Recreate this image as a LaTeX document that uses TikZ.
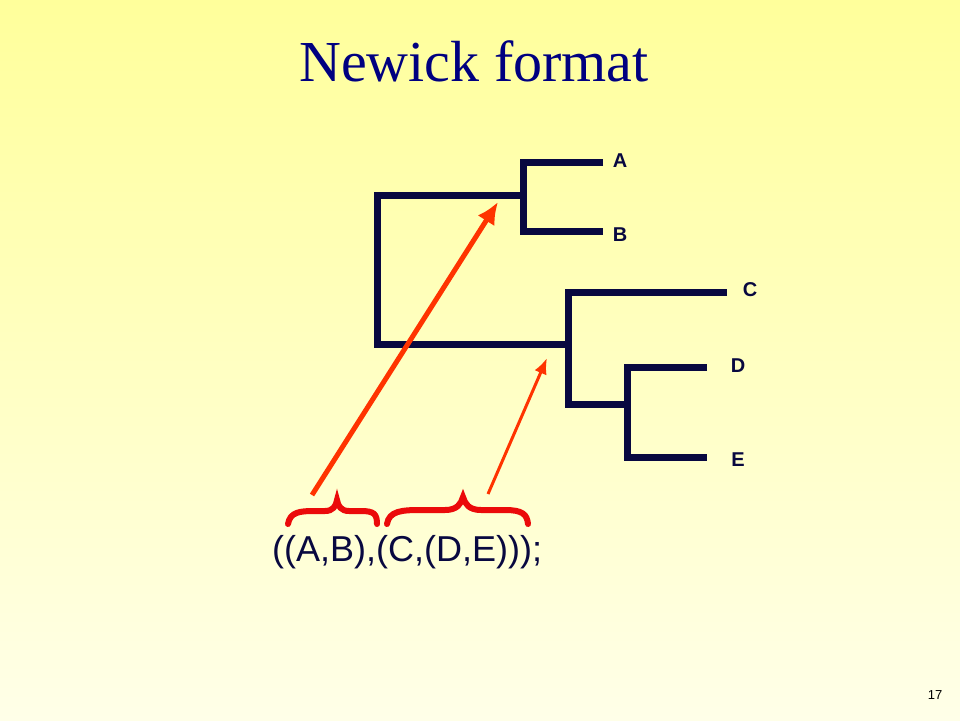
\documentclass[tikz,border=0pt]{standalone}
\usepackage{fontspec}
\setmainfont{Liberation Serif}
\setsansfont{Liberation Sans}
\usetikzlibrary{arrows.meta}
\definecolor{navy}{RGB}{0,0,128}
\definecolor{treeblue}{RGB}{8,8,64}
\definecolor{arrowred}{RGB}{255,51,0}
\definecolor{bracered}{RGB}{235,10,10}
\definecolor{slidetop}{RGB}{255,255,155}
\definecolor{slidebottom}{RGB}{255,255,232}
\tikzset{
  branch/.style={treeblue,line width=7pt,line join=miter},
  leaf/.style={font=\sffamily\bfseries\fontsize{20}{20}\selectfont,text=treeblue,inner sep=0pt},
  brace/.style={bracered,line width=6pt,line cap=round},
  bigarrow/.style={arrowred,line width=5pt,-{Latex[width=20pt,length=22pt]}},
  smallarrow/.style={arrowred,line width=3pt,-{Latex[width=13pt,length=16pt]}}
}

\begin{document}
\begin{tikzpicture}[x=1pt,y=-1pt]
		% border
		\shade[top color=slidetop,bottom color=slidebottom] (0,0) rectangle (960,720);
		\useasboundingbox (0,0) rectangle (960,720);
		% title
		\node[navy,font=\fontsize{58}{58}\selectfont,anchor=base] (title) at (474,81) {Newick format};
		% inner nodes of the tree
		\coordinate (root) at (377,268);
		\coordinate (ab)   at (523,195);
		\coordinate (cde)  at (568,344);
		\coordinate (de)   at (627,404);
		% leaf ends
		\coordinate (a) at (603,162);
		\coordinate (b) at (603,231);
		\coordinate (c) at (727,292);
		\coordinate (d) at (707,367);
		\coordinate (e) at (707,457);
		% branches
		\draw[branch] (a) -| (ab) |- (b);
		\draw[branch] (ab) -| (root) |- (cde);
		\draw[branch] (c) -| (cde) |- (de);
		\draw[branch] (d) -| (de) |- (e);
		% leaf labels
		\node[leaf] (labelA) at (620,161) {A};
		\node[leaf] (labelB) at (620,235) {B};
		\node[leaf] (labelC) at (750,290) {C};
		\node[leaf] (labelD) at (738,366) {D};
		\node[leaf] (labelE) at (738,460) {E};
		% newick string
		\node[font=\sffamily\fontsize{36}{36}\selectfont,text=treeblue,anchor=base west,inner sep=0pt] (newick) at (272,561) {((A,B),(C,(D,E)));};
		\node[font=\sffamily\fontsize{13}{13}\selectfont,anchor=base,inner sep=0pt] (page) at (935,699) {17};
		% braces over the two subtrees
		\draw[brace] (288,524) .. controls (290,512) and (300,511) .. (314,511) -- (325,511)
			.. controls (333,511) and (336,506) .. (337,500)
			.. controls (338,506) and (341,511) .. (349,511) -- (361,511)
			.. controls (374,511) and (377,514) .. (377,524);
		\draw[brace] (387,524) .. controls (389,511) and (402,510) .. (420,510) -- (445,510)
			.. controls (457,510) and (461,504) .. (463,497)
			.. controls (465,504) and (469,510) .. (481,510) -- (505,510)
			.. controls (522,510) and (527,514) .. (528,524);
		% arrows from the braces to the inner nodes
		\coordinate (abfrom)  at (312,495);
		\coordinate (abto)    at (498,202);
		\coordinate (cdefrom) at (488,494);
		\coordinate (cdeto)   at (547,358);
		\draw[bigarrow]   (abfrom)  -- (abto);
		\draw[smallarrow] (cdefrom) -- (cdeto);
	\end{tikzpicture}
\end{document}
